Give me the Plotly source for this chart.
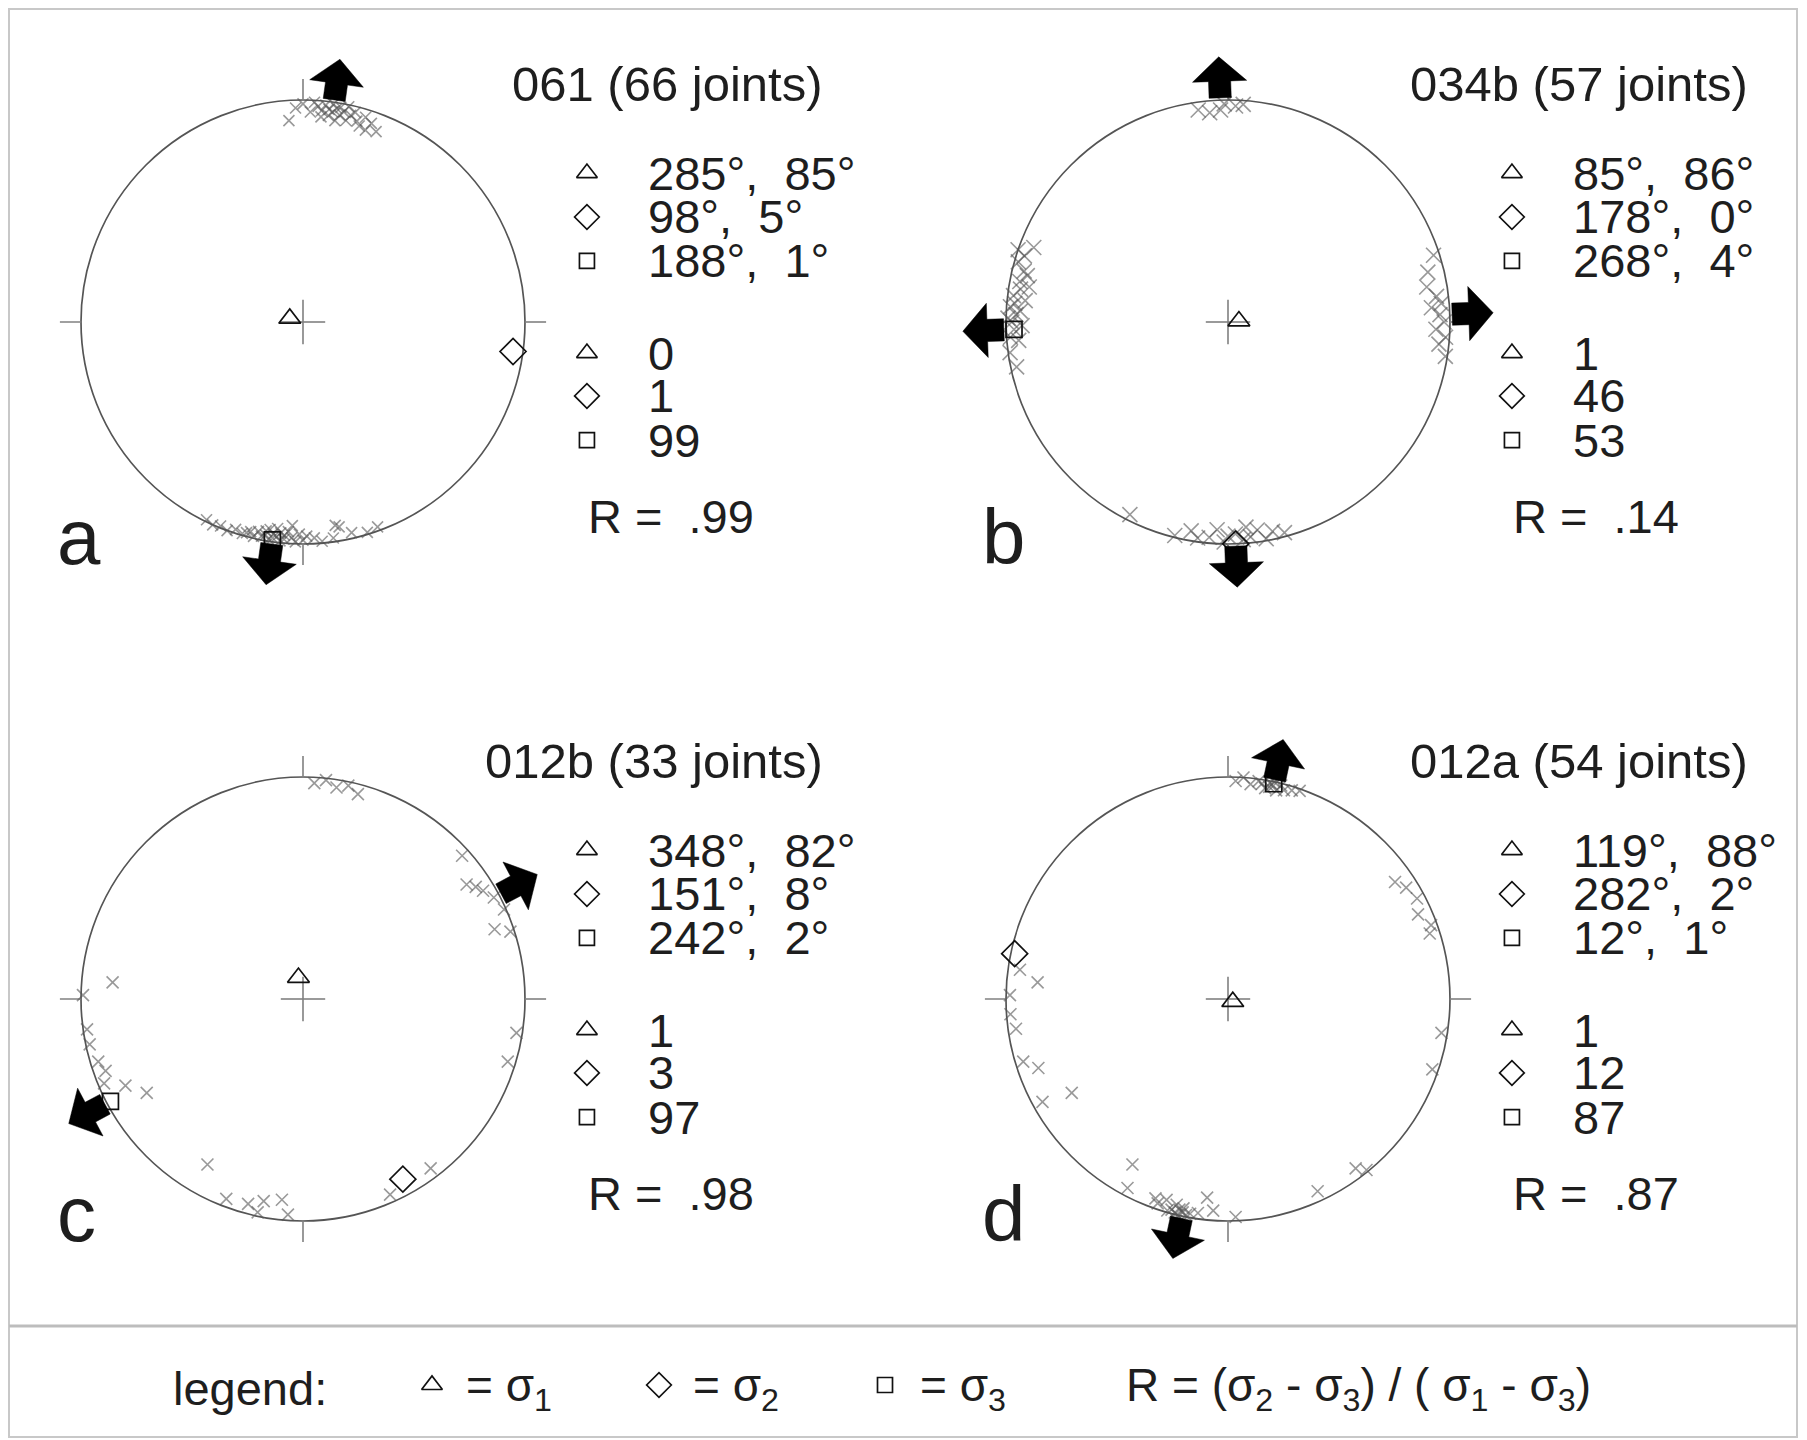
import math
import plotly.graph_objects as go

# ---------------- data ----------------
panel_letters = ["a", "b", "c", "d"]
panel_titles = ["061 (66 joints)", "034b (57 joints)", "012b (33 joints)", "012a (54 joints)"]

sigma1_trend = [285, 85, 348, 119]
sigma1_plunge = [85, 86, 82, 88]
sigma2_trend = [98, 178, 151, 282]
sigma2_plunge = [5, 0, 8, 2]
sigma3_trend = [188, 268, 242, 12]
sigma3_plunge = [1, 4, 2, 1]

sigma1_pct = [0, 1, 1, 1]
sigma2_pct = [1, 46, 3, 12]
sigma3_pct = [99, 53, 97, 87]
r_ratio = [".99", ".14", ".98", ".87"]

# extension directions (block arrows)
extension_trends = [[8, 188], [88, 268, 178, 358], [62, 242], [12, 192]]

# joint poles (trend, plunge) read from the stereonets
a_joint_trend = [356, 358, 0, 2, 3, 4, 5, 5, 6, 7, 7, 8, 8, 9, 9, 10, 10, 11, 12, 12, 13, 14, 15, 16, 17, 18, 19, 21,
                 160, 163, 167, 170, 172, 175, 177, 179, 180, 181, 182, 183, 184, 185, 185, 186, 186, 187, 187, 188,
                 188, 189, 189, 190, 190, 191, 192, 193, 194, 195, 196, 198, 200, 202, 204, 206, 171, 183]
a_joint_plunge = [10, 4, 2, 6, 1, 3, 5, 8, 2, 4, 7, 1, 5, 3, 9, 2, 6, 4, 8, 1, 5, 3, 7, 9, 4, 10, 6, 9,
                  2, 1, 3, 7, 2, 1, 3, 4, 2, 5, 1, 3, 6, 2, 4, 1, 5, 3, 7, 2,
                  4, 1, 6, 3, 5, 2, 4, 1, 3, 2, 1, 2, 0, 1, 0, 1, 8, 9]

b_joint_trend = [352, 355, 358, 359, 2, 4,
                 258, 262, 265, 266, 268, 269, 270, 271, 272, 273, 274, 275, 276, 277, 279, 280, 281, 283, 284, 286,
                 288, 291, 289,
                 72, 76, 80, 83, 85, 86, 88, 90, 92, 94, 96, 99,
                 165, 168, 170, 172, 174, 175, 176, 178, 180, 181, 183, 185, 188, 190, 194,
                 207]
b_joint_plunge = [4, 6, 5, 2, 3, 2,
                  3, 1, 6, 2, 4, 8, 3, 1, 5, 7, 2, 4, 9, 3, 6, 10, 5, 8, 6, 2,
                  4, 7, 0,
                  3, 8, 10, 6, 4, 9, 5, 3, 7, 2, 5, 1,
                  2, 4, 1, 6, 3, 8, 2, 5, 4, 1, 7, 3, 2, 5, 1,
                  3]

c_joint_trend = [3, 6, 9, 12, 15,
                 48, 55, 57, 59, 62, 66, 70, 72,
                 99, 107,
                 143, 156,
                 184, 186, 191, 192, 195, 201, 210,
                 239, 244, 247, 250, 253, 258,
                 262, 271, 275]
c_joint_plunge = [3, 1, 4, 2, 5,
                  4, 11, 8, 6, 3, 1, 9, 2,
                  3, 4,
                  5, 4,
                  3, 10, 8, 2, 5, 4, 15,
                  19, 12, 3, 6, 4, 2,
                  2, 1, 15]

d_joint_trend = [2, 4, 6, 8, 9, 10, 11, 11, 12, 12, 13, 14, 15, 17, 19,
                 55, 58, 62, 66, 70, 72,
                 99, 109,
                 141, 143, 155,
                 178, 184, 186, 188, 190, 191, 192, 192, 193, 193, 194, 194, 195, 196, 197, 199, 200, 208, 210,
                 239, 241, 250, 253,
                 262, 266, 271, 275, 278]
d_joint_plunge = [2, 0, 3, 1, 2, 4, 1, 3, 0, 2, 4, 1, 3, 2, 1,
                  9, 6, 4, 7, 3, 5,
                  3, 3,
                  1, 5, 5,
                  2, 5, 11, 3, 2, 1, 4, 2, 0, 3, 1, 5, 2, 1, 6, 3, 5, 4, 15,
                  19, 5, 10, 4,
                  4, 2, 2, 15, 6]

joint_trends = [a_joint_trend, b_joint_trend, c_joint_trend, d_joint_trend]
joint_plunges = [a_joint_plunge, b_joint_plunge, c_joint_plunge, d_joint_plunge]

# ---------------- layout / style constants ----------------
W, H = 1807, 1440
R_PX = 222.0
CENTERS = [(303, 322), (1228, 322), (303, 999), (1228, 999)]
X_RANGE = (-1.25, 2.55)
Y_RANGE = (-1.25, 1.25)
FONT = "Liberation Sans, Arial, sans-serif"
TXT = "#1e1e1e"
CROSS_COLOR = "rgba(85,85,85,0.6)"
CROSS_SIZE = [11, 15, 12, 12]
MARK_X = 1.279
TEXT_X = 1.545
ROW_Y = [0.671, 0.473, 0.275, -0.140, -0.333, -0.532]
R_Y = -0.878
TITLE_X, TITLE_Y = 2.351, 1.072
LETTER_X, LETTER_Y = -1.115, -0.97
SYMBOLS = ["triangle-up-open", "diamond-open", "square-open"]
SYM_SIZE = [18, 19, 15]


def proj(trend, plunge):
    r = math.sqrt(2) * math.sin(math.radians(90 - plunge) / 2)
    t = math.radians(trend)
    return r * math.sin(t), r * math.cos(t)


def arrow_poly(trend):
    r0, r1, r2 = 1.01, 1.085, 1.195
    hw_s, hw_h = 0.05, 0.122
    pts = [(r0, -hw_s), (r1, -hw_s), (r1, -hw_h), (r2, 0), (r1, hw_h), (r1, hw_s), (r0, hw_s), (r0, -hw_s)]
    t = math.radians(trend)
    ux, uy = math.sin(t), math.cos(t)
    px, py = math.cos(t), -math.sin(t)
    xs = [a * ux + c * px for a, c in pts]
    ys = [a * uy + c * py for a, c in pts]
    return xs, ys


fig = go.Figure()
shapes = []
annotations = []
layout_axes = {}

for i in range(4):
    cx, cy = CENTERS[i]
    sfx = "" if i == 0 else str(i + 1)
    xa, ya = "x" + sfx, "y" + sfx
    xd = [(cx + X_RANGE[0] * R_PX) / W, (cx + X_RANGE[1] * R_PX) / W]
    yd = [1 - (cy - Y_RANGE[0] * R_PX) / H, 1 - (cy - Y_RANGE[1] * R_PX) / H]
    layout_axes["xaxis" + sfx] = dict(domain=xd, range=list(X_RANGE), visible=False, fixedrange=True, anchor=ya)
    layout_axes["yaxis" + sfx] = dict(domain=yd, range=list(Y_RANGE), visible=False, fixedrange=True, anchor=xa)

    # primitive circle, ticks and centre cross
    shapes.append(dict(type="circle", xref=xa, yref=ya, x0=-1, y0=-1, x1=1, y1=1,
                       line=dict(color="#555555", width=1.7), layer="below"))
    for t in (0, 90, 180, 270):
        s = math.sin(math.radians(t)); c = math.cos(math.radians(t))
        shapes.append(dict(type="line", xref=xa, yref=ya, x0=s * 1.0, y0=c * 1.0, x1=s * 1.095, y1=c * 1.095,
                           line=dict(color="#808080", width=1.6), layer="below"))
        shapes.append(dict(type="line", xref=xa, yref=ya, x0=0, y0=0, x1=s * 0.1, y1=c * 0.1,
                           line=dict(color="#808080", width=1.6), layer="below"))

    # joint poles
    jx, jy = zip(*[proj(t, p) for t, p in zip(joint_trends[i], joint_plunges[i])])
    fig.add_trace(go.Scatter(x=jx, y=jy, xaxis=xa, yaxis=ya, mode="markers", cliponaxis=False,
                             marker=dict(symbol="x-thin", size=CROSS_SIZE[i],
                                         line=dict(color=CROSS_COLOR, width=1.6)),
                             showlegend=False, hoverinfo="skip"))

    # principal stress axes
    for k, (tr, pl) in enumerate([(sigma1_trend[i], sigma1_plunge[i]), (sigma2_trend[i], sigma2_plunge[i]),
                                  (sigma3_trend[i], sigma3_plunge[i])]):
        px_, py_ = proj(tr, pl)
        fig.add_trace(go.Scatter(x=[px_], y=[py_], xaxis=xa, yaxis=ya, mode="markers", cliponaxis=False,
                                 marker=dict(symbol=SYMBOLS[k], size=SYM_SIZE[k] + 1, color="#111",
                                             line=dict(color="#111", width=1.7)),
                                 showlegend=False, hoverinfo="skip"))

    # extension arrows
    for tr in extension_trends[i]:
        ax_, ay_ = arrow_poly(tr)
        fig.add_trace(go.Scatter(x=ax_, y=ay_, xaxis=xa, yaxis=ya, mode="lines", fill="toself",
                                 fillcolor="#000", line=dict(color="#000", width=0.5), cliponaxis=False,
                                 showlegend=False, hoverinfo="skip"))

    # side legend symbols
    for k in range(6):
        fig.add_trace(go.Scatter(x=[MARK_X], y=[ROW_Y[k]], xaxis=xa, yaxis=ya, mode="markers", cliponaxis=False,
                                 marker=dict(symbol=SYMBOLS[k % 3], size=SYM_SIZE[k % 3], color="#111",
                                             line=dict(color="#111", width=1.7)),
                                 showlegend=False, hoverinfo="skip"))

    rows = [f"{sigma1_trend[i]}°,\u00a0\u00a0{sigma1_plunge[i]}°",
            f"{sigma2_trend[i]}°,\u00a0\u00a0{sigma2_plunge[i]}°",
            f"{sigma3_trend[i]}°,\u00a0\u00a0{sigma3_plunge[i]}°",
            str(sigma1_pct[i]), str(sigma2_pct[i]), str(sigma3_pct[i])]
    for k, txt in enumerate(rows):
        annotations.append(dict(x=TEXT_X, y=ROW_Y[k], xref=xa, yref=ya, text=txt, showarrow=False,
                                xanchor="left", yanchor="middle", font=dict(family=FONT, size=47, color=TXT)))
    annotations.append(dict(x=TEXT_X - 0.27, y=R_Y, xref=xa, yref=ya, text="R =\u00a0\u00a0" + r_ratio[i],
                            showarrow=False, xanchor="left", yanchor="middle",
                            font=dict(family=FONT, size=47, color=TXT)))
    annotations.append(dict(x=TITLE_X, y=TITLE_Y, xref=xa, yref=ya, text=panel_titles[i], showarrow=False,
                            xanchor="right", yanchor="middle", font=dict(family=FONT, size=49, color=TXT)))
    annotations.append(dict(x=LETTER_X, y=LETTER_Y, xref=xa, yref=ya, text=panel_letters[i], showarrow=False,
                            xanchor="left", yanchor="middle", font=dict(family=FONT, size=78, color=TXT)))

# ---------------- bottom legend bar (pixel-space overlay axis) ----------------
LEG_Y = 1388
layout_axes["xaxis5"] = dict(domain=[0, 1], range=[0, W], visible=False, fixedrange=True, anchor="y5")
layout_axes["yaxis5"] = dict(domain=[0, 1 - 1326 / H], range=[H, 1326], visible=False, fixedrange=True, anchor="x5")
leg_sym_x = [432, 659, 885]
leg_txt_x = [464, 691, 918]
for k in range(3):
    fig.add_trace(go.Scatter(x=[leg_sym_x[k]], y=[LEG_Y - 3], xaxis="x5", yaxis="y5", mode="markers",
                             cliponaxis=False,
                             marker=dict(symbol=SYMBOLS[k], size=SYM_SIZE[k], color="#111",
                                         line=dict(color="#111", width=1.7)),
                             showlegend=False, hoverinfo="skip"))
    annotations.append(dict(x=leg_txt_x[k], y=LEG_Y, xref="x5", yref="y5",
                            text=f"= σ<sub>{k + 1}</sub>", showarrow=False, xanchor="left", yanchor="middle",
                            font=dict(family=FONT, size=46, color=TXT)))
annotations.append(dict(x=171, y=LEG_Y, xref="x5", yref="y5", text="legend:", showarrow=False,
                        xanchor="left", yanchor="middle", font=dict(family=FONT, size=47, color=TXT)))
annotations.append(dict(x=1124, y=LEG_Y, xref="x5", yref="y5",
                        text="R = (σ<sub>2</sub> - σ<sub>3</sub>) / ( σ<sub>1</sub> - σ<sub>3</sub>)",
                        showarrow=False, xanchor="left", yanchor="middle",
                        font=dict(family=FONT, size=46, color=TXT)))

# frame
shapes.append(dict(type="rect", xref="paper", yref="paper", x0=9 / W, x1=1797 / W, y0=1 - 1437 / H, y1=1 - 9 / H,
                   line=dict(color="#c8c8c8", width=2)))
shapes.append(dict(type="line", xref="paper", yref="paper", x0=9 / W, x1=1797 / W, y0=1 - 1326 / H,
                   y1=1 - 1326 / H, line=dict(color="#bdbdbd", width=3)))

fig.update_layout(width=W, height=H, margin=dict(l=0, r=0, t=0, b=0), autosize=False,
                  paper_bgcolor="white", plot_bgcolor="rgba(0,0,0,0)", showlegend=False,
                  shapes=shapes, annotations=annotations, **layout_axes)

fig.write_html("out.html", config={"displayModeBar": False, "staticPlot": True},
               post_script="document.body.style.margin='0px';")
